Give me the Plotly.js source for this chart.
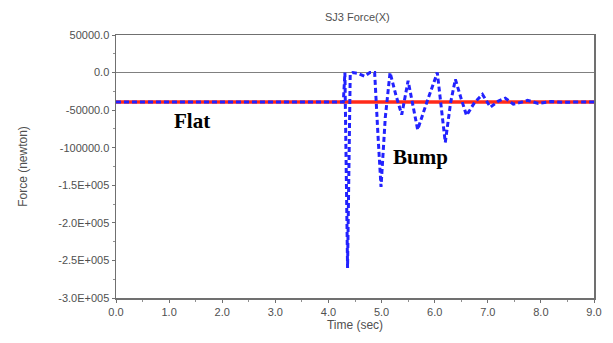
<!DOCTYPE html>
<html>
<head>
<meta charset="utf-8">
<script src="https://cdn.plot.ly/plotly-3.0.1.min.js"></script>
<style>html,body{margin:0;padding:0;background:#fff;}#chart{width:613px;height:343px;}</style>
</head>
<body>
<div id="chart"></div>
<script>
const flatTime = [0.0, 9.0];
const flatForce = [-39000, -39000];

const bumpTime = [0.0, 4.28, 4.31, 4.36, 4.41, 4.46, 4.55, 4.68, 4.78, 4.87, 4.93, 4.99, 5.07, 5.16, 5.27, 5.38, 5.5, 5.6, 5.68, 5.85, 6.05, 6.13, 6.2, 6.3, 6.39, 6.5, 6.6, 6.75, 6.9, 7.05, 7.2, 7.33, 7.48, 7.6, 7.75, 7.95, 8.2, 8.4, 8.6, 9.0];
const bumpForce = [-39000, -39000, 0, -260000, -2000, 0, -1000, -5000, 0, 0, -80000, -152000, -60000, 0, -30000, -56000, -11000, -45000, -76000, -40000, 0, -50000, -93000, -40000, -9000, -35000, -57000, -40000, -29000, -46000, -38000, -34000, -42000, -40000, -37000, -41000, -38500, -39500, -39000, -39000];

const yTickVals = [50000, 0, -50000, -100000, -150000, -200000, -250000, -300000];
const yTickText = ["50000.0", "0.0", "-50000.0", "-100000.0", "-1.5E+005", "-2.0E+005", "-2.5E+005", "-3.0E+005"];
const xTickVals = [0, 1, 2, 3, 4, 5, 6, 7, 8, 9];
const xTickText = ["0.0", "1.0", "2.0", "3.0", "4.0", "5.0", "6.0", "7.0", "8.0", "9.0"];

const traces = [
  {x: flatTime, y: flatForce, mode: 'lines', line: {color: '#ff2a1a', width: 3.5}, hoverinfo: 'skip'},
  {x: bumpTime, y: bumpForce, mode: 'lines', line: {color: '#2222ff', width: 3, dash: '5px,3px'}, hoverinfo: 'skip'}
];

const textColor = '#505050';
const layout = {
  width: 613, height: 343,
  margin: {l: 116, r: 19, t: 35, b: 45},
  paper_bgcolor: '#fff', plot_bgcolor: '#fff',
  showlegend: false,
  font: {family: 'Liberation Sans, Arial, sans-serif', size: 11, color: textColor},
  title: {text: 'SJ3 Force(X)', x: 0.583, xanchor: 'center', y: 0.95, yanchor: 'middle', font: {size: 11, color: textColor}},
  xaxis: {
    range: [0, 9], tickvals: xTickVals, ticktext: xTickText,
    showgrid: false, zeroline: false, showline: true, mirror: true,
    linecolor: '#707070', linewidth: 1.5,
    ticks: 'outside', ticklen: 3, tickcolor: '#707070',
    minor: {dtick: 0.5, ticks: 'outside', ticklen: 2, tickcolor: '#909090', showgrid: false},
    title: {text: 'Time (sec)', standoff: 3, font: {size: 12, color: textColor}}
  },
  yaxis: {
    range: [-300000, 50000], tickvals: yTickVals, ticktext: yTickText,
    showgrid: false, zeroline: true, zerolinecolor: '#808080', zerolinewidth: 1.5,
    showline: true, mirror: true, linecolor: '#707070', linewidth: 1.5,
    ticks: 'outside', ticklen: 3, tickcolor: '#707070',
    minor: {dtick: 25000, ticks: 'outside', ticklen: 2, tickcolor: '#909090', showgrid: false},
    title: {text: 'Force (newton)', standoff: 28, font: {size: 12, color: textColor}}
  },
  annotations: [
    {x: 1.05, y: -64500, xref: 'x', yref: 'y', text: '<b>Flat</b>', showarrow: false, xanchor: 'left', yanchor: 'middle',
     font: {family: 'Liberation Serif, Times New Roman, serif', size: 21, color: '#000'}},
    {x: 5.18, y: -112000, xref: 'x', yref: 'y', text: '<b>Bump</b>', showarrow: false, xanchor: 'left', yanchor: 'middle',
     font: {family: 'Liberation Serif, Times New Roman, serif', size: 21, color: '#000'}}
  ]
};

Plotly.newPlot('chart', traces, layout, {staticPlot: true, displayModeBar: false});
</script>
</body>
</html>
